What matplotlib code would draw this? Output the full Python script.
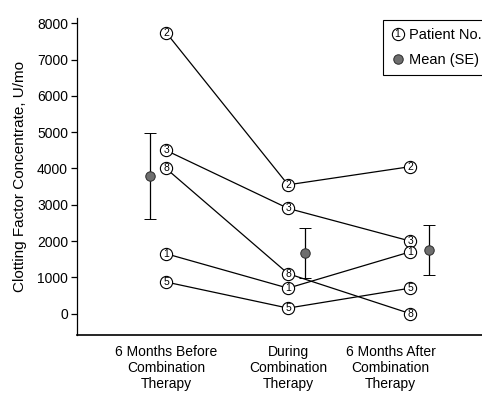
import matplotlib
matplotlib.use("Agg")
import matplotlib.pyplot as plt
from matplotlib.lines import Line2D
from matplotlib.text import Text
from matplotlib.legend_handler import HandlerBase

plt.rcParams["font.family"] = ["Liberation Sans", "DejaVu Sans"]

# Treatment periods (x categories)
periods = [
    "6 Months Before\nCombination\nTherapy",
    "During\nCombination\nTherapy",
    "6 Months After\nCombination\nTherapy",
]

# Clotting factor concentrate use per patient, U/mo
patient_ids = ["2", "3", "8", "1", "5"]
patient_2 = [7750, 3550, 4050]
patient_3 = [4500, 2900, 2000]
patient_8 = [4000, 1100, 0]
patient_1 = [1650, 700, 1700]
patient_5 = [870, 150, 700]
patient_values = [patient_2, patient_3, patient_8, patient_1, patient_5]

# Group mean and standard error per period
mean_values = [3800, 1660, 1750]
mean_se = [1180, 690, 680]

y_ticks = [0, 1000, 2000, 3000, 4000, 5000, 6000, 7000, 8000]


class CircledNumberHandler(HandlerBase):
    """Legend handle drawn as a digit inside an open circle."""

    def __init__(self, digit, **kw):
        super().__init__(**kw)
        self.digit = digit

    def create_artists(self, legend, orig_handle, xdescent, ydescent,
                       width, height, fontsize, trans):
        cx = 0.5 * width - xdescent
        cy = 0.5 * height - ydescent
        circ = Line2D([cx], [cy], ls="none", marker="o", ms=8.8,
                      mfc="white", mec="black", mew=0.8, transform=trans)
        txt = Text(cx, cy, self.digit, ha="center", va="center",
                   fontsize=7.5, transform=trans)
        return [circ, txt]


fig = plt.figure(figsize=(4.82, 3.93), dpi=100)
ax = fig.add_axes([0.1598, 0.1468, 0.8402, 0.8074])

x = list(range(len(periods)))
pat_x = x
mean_x = [-0.131, 1.139, 2.156]

for i, (pid, vals) in enumerate(zip(patient_ids, patient_values)):
    ax.plot(pat_x, vals, color="black", lw=0.9, zorder=2)
for i, (pid, vals) in enumerate(zip(patient_ids, patient_values)):
    ax.plot(pat_x, vals, ls="none", marker="o", ms=8.8, mfc="white",
            mec="black", mew=0.8, zorder=3 + 2 * i)
    for xi, v in zip(pat_x, vals):
        ax.text(xi, v, pid, ha="center", va="center", fontsize=7.5,
                zorder=4 + 2 * i)

ax.errorbar(mean_x, mean_values, yerr=mean_se, fmt="o", ms=6.8,
            mfc="#6e6e6e", mec="#2a2a2a", mew=0.7, ecolor="black",
            elinewidth=0.9, capsize=4.5, capthick=0.9, zorder=20)

ax.set_xlim(-0.73, 2.59)
ax.set_ylim(-600, 8150)
ax.set_yticks(y_ticks)
ax.set_xticks([0, 1, 1.84])
ax.set_xticklabels(periods, fontsize=10, linespacing=1.2)
ax.tick_params(axis="x", length=0, pad=7)
ax.tick_params(axis="y", length=4.5, width=0.9, labelsize=10, pad=2)
ax.set_ylabel("Clotting Factor Concentrate, U/mo", fontsize=11, labelpad=7)

for s in ("top", "right"):
    ax.spines[s].set_visible(False)
ax.spines["left"].set_linewidth(0.9)
ax.spines["bottom"].set_linewidth(1.2)

patient_handle = Line2D([], [], ls="none")
mean_handle = Line2D([], [], ls="none", marker="o", ms=6.8, mfc="#6e6e6e",
                     mec="#2a2a2a", mew=0.7)
leg = ax.legend([patient_handle, mean_handle], ["Patient No.", "Mean (SE)"],
                handler_map={patient_handle: CircledNumberHandler("1")},
                loc="upper left", bbox_to_anchor=(383 / 482, 1 - 20 / 393),
                bbox_transform=fig.transFigure, borderaxespad=0,
                fontsize=10.5, handlelength=0.9, handletextpad=0.35,
                labelspacing=0.75, borderpad=0.55, fancybox=False,
                framealpha=1, edgecolor="black")
leg.get_frame().set_linewidth(0.8)

fig.savefig("out.png", dpi=100)
